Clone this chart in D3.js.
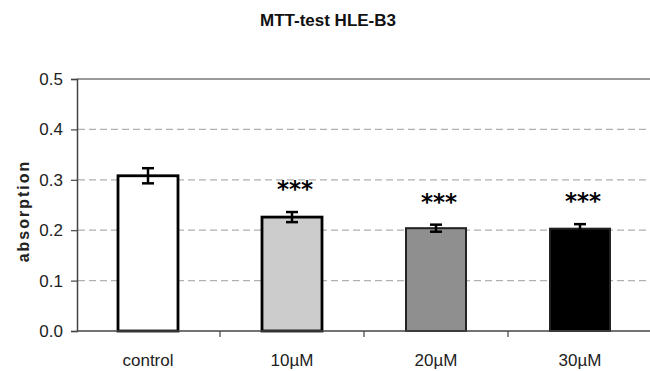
<!DOCTYPE html>
<html>
<head>
<meta charset="utf-8">
<script src="https://cdn.jsdelivr.net/npm/d3@7"></script>
<style>
  body { margin: 0; background: #fff; }
  svg { display: block; }
</style>
</head>
<body>
<svg width="650" height="371"></svg>
<script>
const categories = ['control', '10µM', '20µM', '30µM'];
const means = [0.308, 0.226, 0.204, 0.203];
const errors = [0.015, 0.010, 0.007, 0.009];
const stars = ['', '***', '***', '***'];
const fills = ['#ffffff', '#cccccc', '#8f8f8f', '#000000'];
const yTicks = [0, 0.1, 0.2, 0.3, 0.4, 0.5];

const svg = d3.select('svg');
const font = '"Liberation Sans", Arial, sans-serif';

const data = categories.map((c, i) => ({
  cat: c, mean: means[i], err: errors[i], star: stars[i], fill: fills[i]
}));

const xScale = d3.scaleBand()
  .domain(categories)
  .range([76, 652]);

const yScale = d3.scaleLinear()
  .domain([0, 0.5])
  .range([331, 79]);

const barW = 60;
const cx = d => xScale(d.cat) + xScale.bandwidth() / 2;

// title
svg.append('text')
  .attr('x', 328)
  .attr('y', 26)
  .attr('text-anchor', 'middle')
  .attr('font-family', font)
  .attr('font-weight', 'bold')
  .attr('font-size', 17)
  .attr('fill', '#111')
  .text('MTT-test HLE-B3');

// grid
svg.selectAll('line.grid')
  .data(yTicks.filter(t => t > 0 && t < 0.5))
  .join('line')
  .attr('class', 'grid')
  .attr('x1', 78).attr('x2', 650)
  .attr('y1', d => yScale(d)).attr('y2', d => yScale(d))
  .attr('stroke', '#b0b0b0')
  .attr('stroke-width', 1.3)
  .attr('stroke-dasharray', '7,4');

// top border
svg.append('line')
  .attr('x1', 77).attr('x2', 650)
  .attr('y1', yScale(0.5)).attr('y2', yScale(0.5))
  .attr('stroke', '#9a9a9a')
  .attr('stroke-width', 2);

// y axis
const yAxis = d3.axisLeft(yScale)
  .tickValues(yTicks)
  .tickFormat(d3.format('.1f'))
  .tickSize(6)
  .tickPadding(8);

const yAxisG = svg.append('g')
  .attr('transform', 'translate(77,0)')
  .call(yAxis);
yAxisG.select('.domain').attr('stroke', '#444').attr('stroke-width', 1.5);
yAxisG.selectAll('.tick line').attr('stroke', '#444').attr('stroke-width', 1.2);
yAxisG.selectAll('.tick text')
  .attr('font-family', font)
  .attr('font-size', 17)
  .attr('fill', '#222');

// bars
svg.selectAll('rect.bar')
  .data(data)
  .join('rect')
  .attr('class', 'bar')
  .attr('x', d => cx(d) - barW / 2)
  .attr('width', barW)
  .attr('y', d => yScale(d.mean))
  .attr('height', d => yScale(0) - yScale(d.mean))
  .attr('fill', d => d.fill)
  .attr('stroke', (d, i) => i < 2 ? '#000' : '#222')
  .attr('stroke-width', (d, i) => i < 2 ? 2.8 : 2);

// error bars
const eb = svg.selectAll('g.err')
  .data(data)
  .join('g')
  .attr('class', 'err')
  .attr('stroke', '#000')
  .attr('stroke-width', 2.5);
eb.append('line')
  .attr('x1', cx).attr('x2', cx)
  .attr('y1', d => yScale(d.mean + d.err))
  .attr('y2', d => yScale(d.mean - d.err));
eb.append('line')
  .attr('x1', d => cx(d) - 6).attr('x2', d => cx(d) + 6)
  .attr('y1', d => yScale(d.mean + d.err))
  .attr('y2', d => yScale(d.mean + d.err));
eb.append('line')
  .attr('x1', d => cx(d) - 6).attr('x2', d => cx(d) + 6)
  .attr('y1', d => yScale(d.mean - d.err))
  .attr('y2', d => yScale(d.mean - d.err));

// significance stars
svg.selectAll('text.star')
  .data(data)
  .join('text')
  .attr('class', 'star')
  .attr('x', d => cx(d) + 3)
  .attr('y', d => yScale(d.mean + d.err) - 15)
  .attr('text-anchor', 'middle')
  .attr('font-family', '"DejaVu Sans", sans-serif')
  .attr('font-weight', 'bold')
  .attr('font-size', 23)
  .attr('fill', '#000')
  .text(d => d.star);

// x axis
const xAxis = d3.axisBottom(xScale).tickSize(0).tickPadding(23);
const xAxisG = svg.append('g')
  .attr('transform', 'translate(0,331)')
  .call(xAxis);
xAxisG.select('.domain').remove();
xAxisG.selectAll('.tick text')
  .attr('font-family', font)
  .attr('font-size', 17)
  .attr('fill', '#222');

svg.append('line')
  .attr('x1', 77).attr('x2', 650)
  .attr('y1', 331).attr('y2', 331)
  .attr('stroke', '#444')
  .attr('stroke-width', 1.5);

// category separator ticks
svg.selectAll('line.sep')
  .data(categories.slice(1))
  .join('line')
  .attr('class', 'sep')
  .attr('x1', d => xScale(d)).attr('x2', d => xScale(d))
  .attr('y1', 331).attr('y2', 337)
  .attr('stroke', '#444')
  .attr('stroke-width', 1.2);

// y label
svg.append('text')
  .attr('transform', 'translate(29,211) rotate(-90)')
  .attr('text-anchor', 'middle')
  .attr('font-family', font)
  .attr('font-weight', 'bold')
  .attr('font-size', 16)
  .attr('letter-spacing', 2)
  .attr('fill', '#222')
  .text('absorption');
</script>
</body>
</html>
